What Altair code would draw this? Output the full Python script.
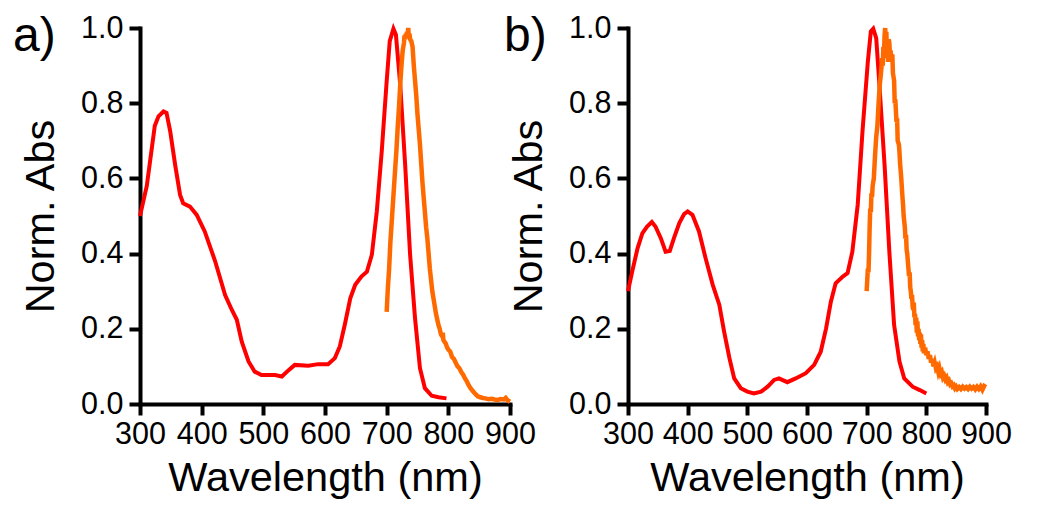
import altair as alt
import pandas as pd

# ---------------- data ----------------
a_abs_nm = [300, 311, 324, 330, 338, 343, 349, 357, 365, 370, 381, 392, 405, 422, 438, 449, 457,
            465, 476, 486, 497, 519, 530, 541, 551, 573, 589, 605, 616, 624, 632, 641, 649, 659,
            668, 676, 684, 692, 700, 705, 711, 715, 722, 730, 738, 746, 754, 762, 773, 784, 797]
a_abs_val = [0.50, 0.58, 0.74, 0.765, 0.778, 0.774, 0.725, 0.636, 0.556, 0.534, 0.525, 0.503,
             0.459, 0.379, 0.29, 0.25, 0.224, 0.166, 0.113, 0.086, 0.077, 0.077, 0.073, 0.09,
             0.104, 0.102, 0.106, 0.106, 0.122, 0.153, 0.21, 0.281, 0.317, 0.339, 0.352, 0.397,
             0.512, 0.672, 0.858, 0.965, 0.998, 0.982, 0.849, 0.636, 0.397, 0.228, 0.095, 0.042,
             0.022, 0.018, 0.015]

a_em_nm = [700, 702, 704, 706, 708, 710, 712, 714, 716, 718, 720, 722, 724, 726, 728, 729, 730,
           731, 732, 733, 734, 735, 736, 737, 738, 740, 742, 744, 746, 748, 750, 752, 754, 756,
           758, 760, 762, 764, 766, 768, 770, 772, 774, 776, 778, 780, 782, 784, 786, 788, 790,
           791, 792, 794, 796, 798, 800, 803, 806, 809, 812, 815, 818, 821, 824, 827, 830, 833,
           836, 839, 842, 845, 848, 852, 856, 860, 865, 870, 875, 880, 885, 890, 893, 896, 900]
a_em_val = [0.245, 0.31, 0.36, 0.43, 0.48, 0.53, 0.58, 0.63, 0.68, 0.74, 0.79, 0.85, 0.90, 0.94,
            0.96, 0.98, 0.97, 0.985, 0.975, 0.99, 0.98, 1.0, 0.975, 0.985, 0.97, 0.965, 0.95,
            0.90, 0.86, 0.82, 0.77, 0.73, 0.69, 0.64, 0.59, 0.55, 0.51, 0.47, 0.44, 0.40, 0.36,
            0.33, 0.30, 0.28, 0.26, 0.24, 0.225, 0.21, 0.20, 0.185, 0.18, 0.19, 0.17, 0.165,
            0.16, 0.15, 0.145, 0.14, 0.125, 0.12, 0.11, 0.10, 0.095, 0.085, 0.078, 0.068, 0.06,
            0.05, 0.042, 0.036, 0.03, 0.025, 0.02, 0.018, 0.016, 0.015, 0.013, 0.014, 0.012,
            0.011, 0.013, 0.012, 0.016, 0.01, 0.006]

b_abs_nm = [300, 307, 316, 324, 332, 340, 346, 355, 363, 370, 377, 386, 394, 400, 408, 419, 430,
            442, 453, 461, 470, 478, 489, 500, 511, 523, 534, 545, 553, 567, 581, 598, 612, 623,
            632, 640, 648, 660, 668, 676, 685, 693, 702, 707, 711, 716, 721, 730, 738, 746, 755,
            763, 777, 789, 800]
b_abs_val = [0.30, 0.352, 0.414, 0.454, 0.472, 0.484, 0.472, 0.441, 0.405, 0.407, 0.441, 0.481,
             0.505, 0.512, 0.503, 0.459, 0.388, 0.317, 0.264, 0.193, 0.122, 0.068, 0.042, 0.033,
             0.028, 0.033, 0.046, 0.064, 0.068, 0.058, 0.068, 0.082, 0.104, 0.139, 0.201, 0.272,
             0.321, 0.339, 0.348, 0.405, 0.53, 0.725, 0.911, 0.991, 0.998, 0.973, 0.858, 0.636,
             0.405, 0.21, 0.113, 0.068, 0.046, 0.037, 0.028]

b_em_nm = [700, 701, 702, 703, 704, 705, 706, 707, 708, 709, 710, 712, 714, 716, 718, 719, 720,
           722, 724, 726, 727, 728, 729, 730, 731, 732, 733, 734, 735, 736, 737, 738, 739, 740,
           742, 743, 744, 746, 747, 748, 750, 751, 752, 754, 755, 756, 757, 758, 760, 761, 762,
           764, 765, 766, 767, 768, 770, 771, 772, 773, 774, 775, 776, 777, 778, 779, 780, 781,
           782, 783, 784, 785, 786, 787, 788, 789, 790, 791, 792, 793, 794, 795, 796, 798, 800,
           802, 804, 806, 808, 810, 812, 814, 816, 818, 820, 822, 824, 826, 828, 830, 832, 834,
           836, 838, 840, 842, 844, 846, 848, 850, 852, 855, 858, 861, 864, 867, 870, 873, 876,
           879, 882, 885, 888, 891, 894, 897, 900]
b_em_val = [0.30, 0.33, 0.36, 0.35, 0.40, 0.47, 0.52, 0.51, 0.56, 0.55, 0.58, 0.60, 0.66, 0.71,
            0.74, 0.77, 0.80, 0.85, 0.88, 0.92, 0.90, 0.95, 0.93, 0.98, 1.0, 0.97, 0.99, 0.92,
            0.96, 0.91, 0.97, 0.96, 0.93, 0.94, 0.91, 0.93, 0.88, 0.86, 0.80, 0.81, 0.75, 0.76,
            0.70, 0.69, 0.67, 0.64, 0.62, 0.60, 0.55, 0.53, 0.50, 0.47, 0.44, 0.45, 0.41, 0.40,
            0.36, 0.34, 0.35, 0.31, 0.30, 0.28, 0.29, 0.26, 0.25, 0.27, 0.23, 0.24, 0.21, 0.23,
            0.19, 0.22, 0.18, 0.20, 0.17, 0.19, 0.16, 0.185, 0.15, 0.17, 0.14, 0.16, 0.135, 0.15,
            0.13, 0.14, 0.12, 0.13, 0.11, 0.12, 0.10, 0.11, 0.095, 0.10, 0.085, 0.095, 0.08,
            0.085, 0.07, 0.075, 0.065, 0.07, 0.058, 0.062, 0.052, 0.055, 0.047, 0.05, 0.042,
            0.046, 0.04, 0.045, 0.04, 0.046, 0.041, 0.045, 0.04, 0.046, 0.041, 0.045, 0.039,
            0.046, 0.04, 0.047, 0.038, 0.048, 0.045]

x_ticks = [300, 400, 500, 600, 700, 800, 900]
y_ticks = [0.0, 0.2, 0.4, 0.6, 0.8, 1.0]
panel_labels = ["a)", "b)"]

RED = "#FF0000"
ORANGE = "#FF6A00"
FONT = "Liberation Sans"


def axis(title, values, fmt, label_pad, title_pad):
    return alt.Axis(
        values=values, title=title, format=fmt, grid=False,
        labelOverlap=False, labelFlush=False,
        domainColor="black", domainWidth=4, domainCap="square",
        tickColor="black", tickWidth=4, tickSize=11,
        labelFont=FONT, labelFontSize=30.5, labelColor="black", labelPadding=label_pad,
        titleFont=FONT, titleFontSize=41.5, titleFontWeight="normal", titleColor="black",
        titlePadding=title_pad,
    )


def panel(abs_nm, abs_val, em_nm, em_val, label, width, label_x):
    x_enc = alt.X("nm:Q", scale=alt.Scale(domain=[300, 900], nice=False, zero=False),
                  axis=axis("Wavelength (nm)", x_ticks, "d", 4, 8))
    y_enc = alt.Y("v:Q", scale=alt.Scale(domain=[0, 1], nice=False),
                  axis=axis("Norm. Abs", y_ticks, ".1f", 6, 18))
    absorb = alt.Chart(pd.DataFrame({"nm": abs_nm, "v": abs_val})).mark_line(
        color=RED, strokeWidth=4).encode(x=x_enc, y=y_enc)
    emit = alt.Chart(pd.DataFrame({"nm": em_nm, "v": em_val})).mark_line(
        color=ORANGE, strokeWidth=4.5).encode(x=x_enc, y=y_enc)
    txt = alt.Chart(pd.DataFrame({"lab": [label]})).mark_text(
        font=FONT, fontSize=48, align="left", baseline="alphabetic", color="black"
    ).encode(text="lab:N", x=alt.value(label_x), y=alt.value(23))
    return alt.layer(absorb, emit, txt).properties(width=width, height=376)


pa = panel(a_abs_nm, a_abs_val, a_em_nm, a_em_val, panel_labels[0], 370, -127)
pb = panel(b_abs_nm, b_abs_val, b_em_nm, b_em_val, panel_labels[1], 358, -124)

chart = alt.hconcat(pa, pb, spacing=-32).properties(
    padding={"left": 5, "top": 5, "right": 5, "bottom": 5}
).configure_view(stroke=None)

chart.save("out.html", embed_options={"renderer": "svg", "actions": False})
